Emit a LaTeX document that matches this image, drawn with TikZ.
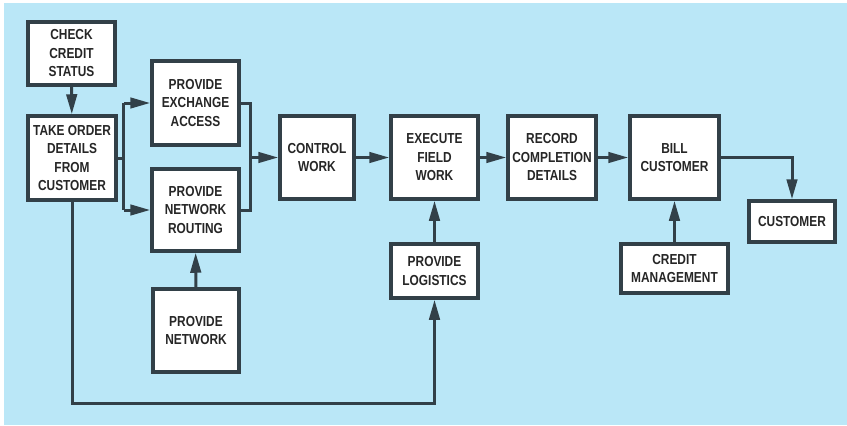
\documentclass[tikz,border=0pt]{standalone}
\usepackage{fontspec}
\setmainfont[FakeStretch=0.82]{Liberation Sans}
\usepackage{tikz}
\usetikzlibrary{arrows.meta}

\definecolor{sheet}{RGB}{186,231,247}
\definecolor{ink}{RGB}{50,64,72}

\begin{document}
\begin{tikzpicture}[x=1pt,y=-1pt,
  box/.style={draw=ink,line width=3.5pt,fill=white,inner sep=1pt,align=center,
    font=\bfseries\fontsize{14.5}{18.5}\selectfont,text=black!85},
  wire/.style={draw=ink,line width=3pt,line join=miter},
  flow/.style={wire,-{Triangle[length=20pt,width=10.5pt]}}]
\useasboundingbox (0,0) rectangle (847,426);
\fill [sheet] (4,3) rectangle (847,425);
\node [box,minimum width=87,minimum height=63] (check) at (71.5,53.5) {CHECK\\CREDIT\\STATUS};
\node [box,minimum width=88,minimum height=84] (take) at (72,158) {TAKE ORDER\\DETAILS\\FROM\\CUSTOMER};
\node [box,minimum width=87,minimum height=84] (exch) at (195.5,103) {PROVIDE\\EXCHANGE\\ACCESS};
\node [box,minimum width=87,minimum height=82] (rout) at (195.5,210) {PROVIDE\\NETWORK\\ROUTING};
\node [box,minimum width=86,minimum height=83] (net) at (196,330.5) {PROVIDE\\NETWORK};
\node [box,minimum width=74,minimum height=83] (ctrl) at (317,157.5) {CONTROL\\WORK};
\node [box,minimum width=87,minimum height=83] (exec) at (434.5,157.5) {EXECUTE\\FIELD\\WORK};
\node [box,minimum width=87,minimum height=54] (logi) at (434.5,271) {PROVIDE\\LOGISTICS};
\node [box,minimum width=88,minimum height=83] (rec) at (552,157.5) {RECORD\\COMPLETION\\DETAILS};
\node [box,minimum width=89,minimum height=83] (bill) at (674.5,157.5) {BILL\\CUSTOMER};
\node [box,minimum width=86,minimum height=41] (cust) at (792,221.5) {CUSTOMER};
\node [box,minimum width=107,minimum height=49] (cred) at (674.5,268.5) {CREDIT\\MANAGEMENT};
\draw [flow] (check) -- (take);
\draw [wire] (take.east) -- ++(6,0) coordinate (fork);
\draw [wire] (fork |- exch.west) -- (fork |- rout.west);
\draw [flow] (fork |- exch.west) -- (exch.west);
\draw [flow] (fork |- rout.west) -- (rout.west);
\draw [wire] (exch.east) -- ++(10,0) coordinate (join) |- (rout.east);
\draw [flow] (join |- ctrl.west) -- (ctrl.west);
\draw [flow] (net) -- (rout);
\draw [flow] (ctrl) -- (exec);
\draw [flow] (logi) -- (exec);
\draw [flow] (take.south) -- (take.south |- 0,403) -| (logi.south);
\draw [flow] (exec) -- (rec);
\draw [flow] (rec) -- (bill);
\draw [flow] (cred) -- (bill);
\draw [flow] (bill.east) -| (cust.north);
\end{tikzpicture}
\end{document}
